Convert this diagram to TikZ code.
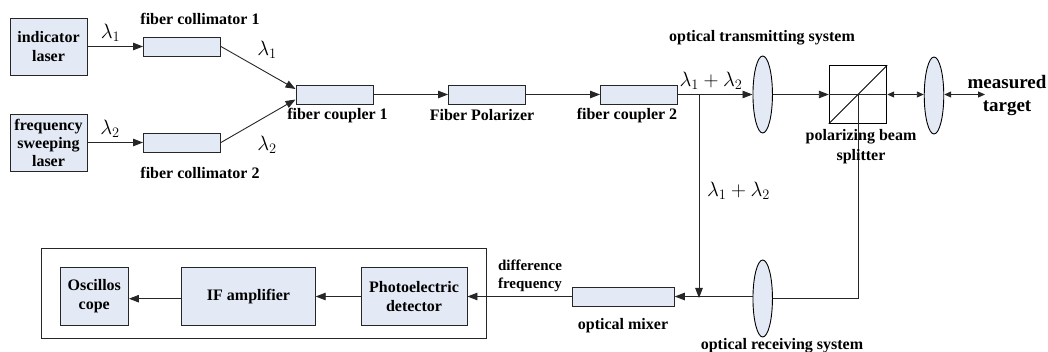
\documentclass[tikz,border=0pt]{standalone}
\usepackage{fontspec}
\setmainfont{Liberation Serif}
\usetikzlibrary{arrows.meta,shapes.geometric}
\definecolor{boxfill}{HTML}{E4EAF5}
\tikzset{
  x=1pt,y=-1pt,
  blockbox/.style={draw=black!85,fill=boxfill,line width=0.9pt,minimum width=0pt,minimum height=0pt,inner sep=0pt,align=center,font=\bfseries\fontsize{16}{19}\selectfont},
  lensshape/.style={draw=black,fill=boxfill,line width=0.9pt},
  lbl/.style={font=\bfseries\fontsize{16}{20}\selectfont,align=center,inner sep=0pt},
  lam/.style={font=\fontsize{21}{22}\selectfont,inner sep=0pt},
  conn/.style={draw=black!85,line width=0.9pt,-{Triangle[length=10pt,width=7.5pt]}},
  plain/.style={draw=black!85,line width=1pt},
  dbl/.style={draw=black!85,line width=0.9pt,{Triangle[length=7pt,width=6pt]}-{Triangle[length=7pt,width=6pt]}}
}
\begin{document}
\begin{tikzpicture}
\useasboundingbox (0,0) rectangle (1048,352);
% blocks
\node[blockbox,minimum width=77pt,minimum height=57pt] (ind) at (48.5,46.5) {indicator\\laser};
\node[blockbox,minimum width=77pt,minimum height=57pt,font=\bfseries\fontsize{16}{18}\selectfont] (freq) at (48.5,142.5) {frequency\\sweeping\\laser};
\node[blockbox,minimum width=77pt,minimum height=19pt] (col1) at (182,46.5) {};
\node[blockbox,minimum width=77pt,minimum height=19pt] (col2) at (182,142.5) {};
\node[blockbox,minimum width=77pt,minimum height=19pt] (cp1) at (334.5,94.5) {};
\node[blockbox,minimum width=77pt,minimum height=19pt] (pol) at (487,94.5) {};
\node[blockbox,minimum width=77pt,minimum height=19pt] (cp2) at (639,94.5) {};
\node[blockbox,minimum width=102pt,minimum height=19pt] (mix) at (623.3,296.5) {};
% outer frame
\node[draw=black!85,line width=1pt,minimum width=445.5pt,minimum height=89.5pt,inner sep=0pt] (frame) at (263.75,293.25) {};
\node[blockbox,minimum width=68.5pt,minimum height=57.5pt] (osc) at (94.25,296.5) {Oscillos\\cope};
\node[blockbox,minimum width=133.5pt,minimum height=57.5pt] (ifa) at (248.5,296.5) {IF amplifier};
\node[blockbox,minimum width=106pt,minimum height=57.5pt] (pd) at (414,296.5) {Photoelectric\\detector};
% cube
\node[draw=black,line width=0.9pt,minimum width=57.5pt,minimum height=57.5pt,inner sep=0pt] (cube) at (858,94.5) {};
\draw[line width=0.9pt,black] (cube.south west) -- (cube.north east);
% lenses
\node[lensshape,ellipse,minimum width=19.5pt,minimum height=77pt,inner sep=0pt] (l1) at (762.7,94.5) {};
\node[lensshape,ellipse,minimum width=19.5pt,minimum height=77pt,inner sep=0pt] (l2) at (934,95.5) {};
\node[lensshape,ellipse,minimum width=19.5pt,minimum height=77pt,inner sep=0pt] (l3) at (762.7,298.5) {};
% junctions / free ends
\coordinate (tapT) at (699,94.5);
\coordinate (tapB) at (699,298);
\coordinate (spl) at (cube.center);
\coordinate (turn) at (858,298.5);
\coordinate (tgt) at (985,94.5);
% connectors
\draw[conn] (ind.east |- col1) -- (col1.west);
\draw[conn] (freq.east |- col2) -- (col2.west);
\draw[conn] (col1.east) -- (295.5,89);
\draw[conn] (col2.east) -- (295.5,99.5);
\draw[conn] (cp1.east) -- (pol.west);
\draw[conn] (pol.east) -- (cp2.west);
\draw[conn] (cp2.east) -- (l1.west);
\draw[conn] (l1.east) -- (cube.west);
\draw[plain] (cube.west) -- (cube.east);
\draw[dbl] (cube.east) -- (l2.west |- cube.east);
\draw[dbl] (l2.east |- cube.east) -- (tgt);
\draw[conn] (tapT) -- (tapB);
\draw[plain] (spl) -- (turn) -- (l3.east);
\draw[conn] (l3.west |- mix.east) -- (mix.east);
\draw[conn] (mix.west) -- (pd.east);
\draw[conn] (pd.west) -- (ifa.east);
\draw[conn] (ifa.west |- 0,298.7) -- (osc.east |- 0,298.7);
% labels
\node[lbl] (t1) at (200,19) {fiber collimator 1};
\node[lbl] (t2) at (200,173) {fiber collimator 2};
\node[lbl] (t3) at (337.5,115.5) {fiber coupler 1};
\node[lbl] (t4) at (482,115.5) {Fiber Polarizer};
\node[lbl] (t5) at (627,115.5) {fiber coupler 2};
\node[lbl] (t6) at (762,38) {optical transmitting system};
\node[lbl] (t7) at (861,147) {polarizing beam\\splitter};
\node[lbl,font=\bfseries\fontsize{19}{23}\selectfont] (t8) at (1007,96) {measured\\target};
\node[lbl] (t9) at (623,326) {optical mixer};
\node[lbl] (t10) at (782,346) {optical receiving system};
\node[lbl,font=\bfseries\fontsize{15}{18}\selectfont,align=left] (t11) at (530,276) {difference\\frequency};
\node[lam] (a1) at (110.5,33) {$\lambda_1$};
\node[lam] (a2) at (110,129) {$\lambda_2$};
\node[lam] (a3) at (267,50) {$\lambda_1$};
\node[lam] (a4) at (267,145) {$\lambda_2$};
\node[lam] (a5) at (711,81) {$\lambda_1+\lambda_2$};
\node[lam] (a6) at (738.5,191) {$\lambda_1+\lambda_2$};
\end{tikzpicture}
\end{document}
